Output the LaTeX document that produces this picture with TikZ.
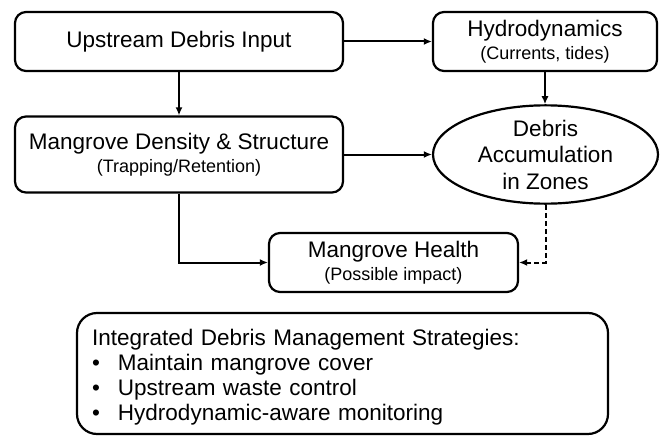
\documentclass[tikz,border=0pt]{standalone}
\usepackage{fontspec}
\setmainfont{Liberation Sans}
\usetikzlibrary{arrows.meta,shapes.geometric,positioning,calc}

\newcommand{\subline}[1]{{\fontsize{18}{23}\selectfont #1}}

\tikzset{
  flowbox/.style={draw, line width=2.2pt, rounded corners=11pt, align=center,
                  inner sep=0pt, font=\fontsize{22.5}{23}\selectfont},
  zonebox/.style={draw, ellipse, line width=2.2pt, align=center, inner sep=0pt,
                  font=\fontsize{22.5}{26.5}\selectfont},
  link/.style={-{Latex[length=8pt,width=7pt]}, line width=2pt},
}

\begin{document}
\begin{tikzpicture}[x=1pt, y=-1pt]
  \useasboundingbox (0,0) rectangle (664,436);

  \node[flowbox, minimum width=328pt, minimum height=59pt] (input) at (179,41.5) {Upstream Debris Input};
  \node[flowbox, minimum width=224pt, minimum height=59pt] (hydro) at (545,41.5) {Hydrodynamics\\\subline{(Currents, tides)}};
  \node[flowbox, minimum width=328pt, minimum height=76pt] (density) at (179,154.5) {Mangrove Density \& Structure\\\subline{(Trapping/Retention)}};
  \node[zonebox, minimum width=225pt, minimum height=92pt] (zones) at (545.5,154.5) {Debris\\Accumulation\\in Zones};
  \node[flowbox, minimum width=249pt, minimum height=59pt] (health) at (393.5,262.5) {Mangrove Health\\\subline{(Possible impact)}};
  \node[flowbox, rounded corners=20pt, minimum width=531pt, minimum height=121pt,
        text width=501pt, align=left, font=\fontsize{22.5}{25}\selectfont] (strategies) at (342.5,373.5)
    {\rule{0pt}{23pt}Integrated Debris Management Strategies:\\
     \makebox[26pt][l]{\textbullet}Maintain mangrove cover\\
     \makebox[26pt][l]{\textbullet}Upstream waste control\\
     \makebox[26pt][l]{\textbullet}Hydrodynamic-aware monitoring};

  \draw[link] (input.east) -- (hydro.west);
  \draw[link] (input.south) -- (density.north);
  \draw[link] (hydro.south) -- (hydro.south |- zones.north);
  \draw[link] (density.east) -- (zones.west);
  \draw[link] (density.south) |- (health.west);
  \draw[link, dash pattern=on 5pt off 3pt] (zones.south) |- (health.east);
\end{tikzpicture}
\end{document}
